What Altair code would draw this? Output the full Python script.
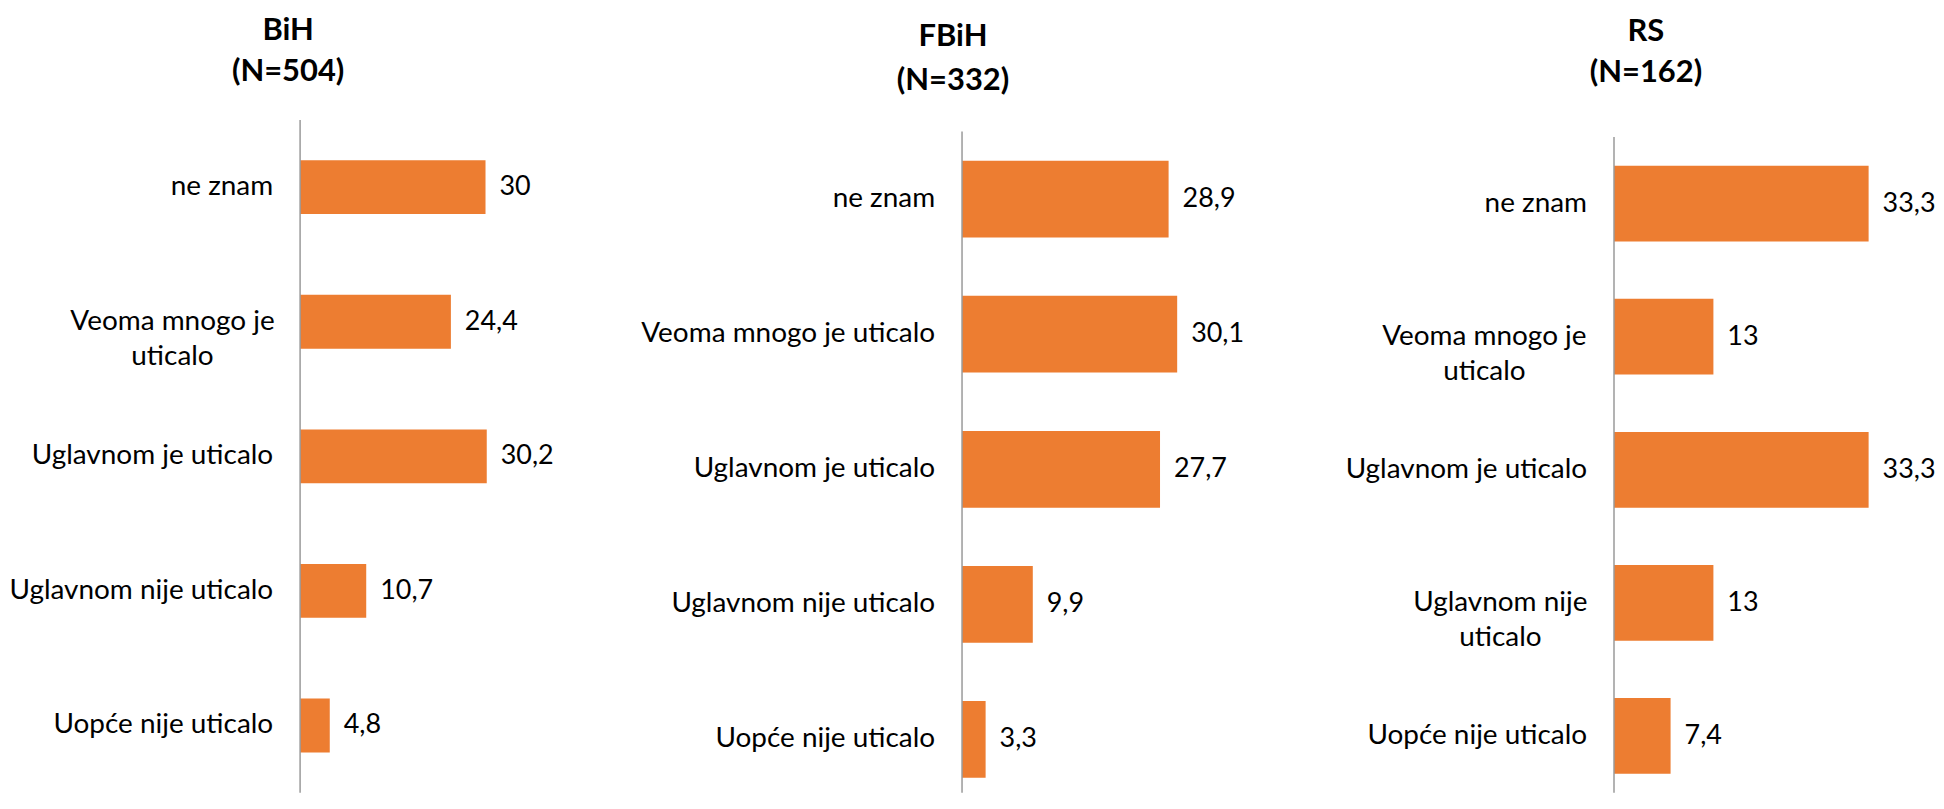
import altair as alt
import pandas as pd

# ---- data ----
categories = [
    "ne znam",
    "Veoma mnogo je uticalo",
    "Uglavnom je uticalo",
    "Uglavnom nije uticalo",
    "Uopće nije uticalo",
]
bih_values = [30, 24.4, 30.2, 10.7, 4.8]
fbih_values = [28.9, 30.1, 27.7, 9.9, 3.3]
rs_values = [33.3, 13, 33.3, 13, 7.4]

panel_titles = [["BiH", "(N=504)"], ["FBiH", "(N=332)"], ["RS", "(N=162)"]]

# wrapped category labels per panel
wrapped_labels = [
    {"Veoma mnogo je uticalo": "Veoma mnogo je\nuticalo"},
    {},
    {
        "Veoma mnogo je uticalo": "Veoma mnogo je\nuticalo",
        "Uglavnom nije uticalo": "Uglavnom nije\nuticalo",
    },
]

# ---- layout / style ----
FONT = "Lato"
ORANGE = "#ED7D31"
H = 675
panel_cfg = [
    dict(extent=293, width=300, xmax=300 / 6.2, r0=0.0, step=135.0, frac=0.40,
         title_dx=-162, title_offset=31, title_lh=41,
         wrap_dx={"Veoma mnogo je uticalo": 128}),
    dict(extent=364, width=300, xmax=300 / 7.17, r0=11.75, step=135.5, frac=0.568,
         title_dx=-159, title_offset=23, title_lh=44, wrap_dx={}),
    dict(extent=354, width=312, xmax=312 / 7.67, r0=17.25, step=133.5, frac=0.569,
         title_dx=-124, title_offset=31, title_lh=41,
         wrap_dx={"Veoma mnogo je uticalo": 130, "Uglavnom nije uticalo": 114}),
]


def fmt(v):
    return f"{v:g}".replace(".", ",")


def make_panel(values, title, wraps, cfg):
    df = pd.DataFrame({
        "cat": categories,
        "value": values,
        "label": [fmt(v) for v in values],
        "wrap": [wraps.get(c, c) for c in categories],
        "is_wrapped": [c in wraps for c in categories],
    })
    pi = 1 - cfg["frac"]
    r1 = cfg["r0"] + cfg["step"] * len(categories)
    y_main = alt.Y(
        "cat:N", sort=categories,
        scale=alt.Scale(range=[cfg["r0"], r1], paddingInner=pi, paddingOuter=pi / 2),
        axis=alt.Axis(labels=False, ticks=False, domain=False, grid=False, title=None,
                      minExtent=cfg["extent"], maxExtent=cfg["extent"]),
    )
    y_plain = alt.Y("cat:N", sort=categories)
    x_main = alt.X("value:Q", scale=alt.Scale(domain=[0, cfg["xmax"]], nice=False, zero=True),
                   axis=None)
    base = alt.Chart(df)

    bars = base.mark_bar(color=ORANGE).encode(x=x_main, y=y_main)
    vals = base.mark_text(align="left", baseline="middle", dx=14, font=FONT,
                          fontSize=27, color="#000000").encode(
        x=alt.X("value:Q"), y=y_plain, text="label:N")
    single = base.transform_filter("!datum.is_wrapped").mark_text(
        align="right", baseline="middle", dx=-27, font=FONT, fontSize=28,
        color="#000000").encode(x=alt.value(0), y=y_plain, text="cat:N")
    layers = [bars, vals, single]
    for cat, dxv in cfg["wrap_dx"].items():
        layers.append(
            base.transform_filter(alt.datum.cat == cat).mark_text(
                align="center", baseline="middle", dx=-dxv, lineBreak="\n",
                lineHeight=35, font=FONT, fontSize=28, color="#000000").encode(
                x=alt.value(0), y=y_plain, text="wrap:N"))
    rule = alt.Chart(pd.DataFrame({"k": [0]})).mark_rule(
        color="#9A9A9A", strokeWidth=1.5).encode(
        x=alt.value(0), y=alt.value(cfg["r0"]), y2=alt.value(H))
    layers.append(rule)

    return alt.layer(*layers).properties(
        width=cfg["width"], height=H,
        title=alt.TitleParams(
            text=title, font=FONT, fontSize=31, fontWeight="bold", color="#000000",
            lineHeight=cfg["title_lh"], anchor="middle", frame="group",
            dx=cfg["title_dx"], offset=cfg["title_offset"]),
    )


panels = [
    make_panel(v, t, w, c)
    for v, t, w, c in zip([bih_values, fbih_values, rs_values], panel_titles,
                          wrapped_labels, panel_cfg)
]

chart = alt.hconcat(*panels, spacing=0).properties(
    padding={"left": 0, "top": 6, "right": 0, "bottom": 0}
).configure(background="white").configure_view(stroke=None, strokeWidth=0)

chart.save("out.html", embed_options={"renderer": "svg", "actions": False})
